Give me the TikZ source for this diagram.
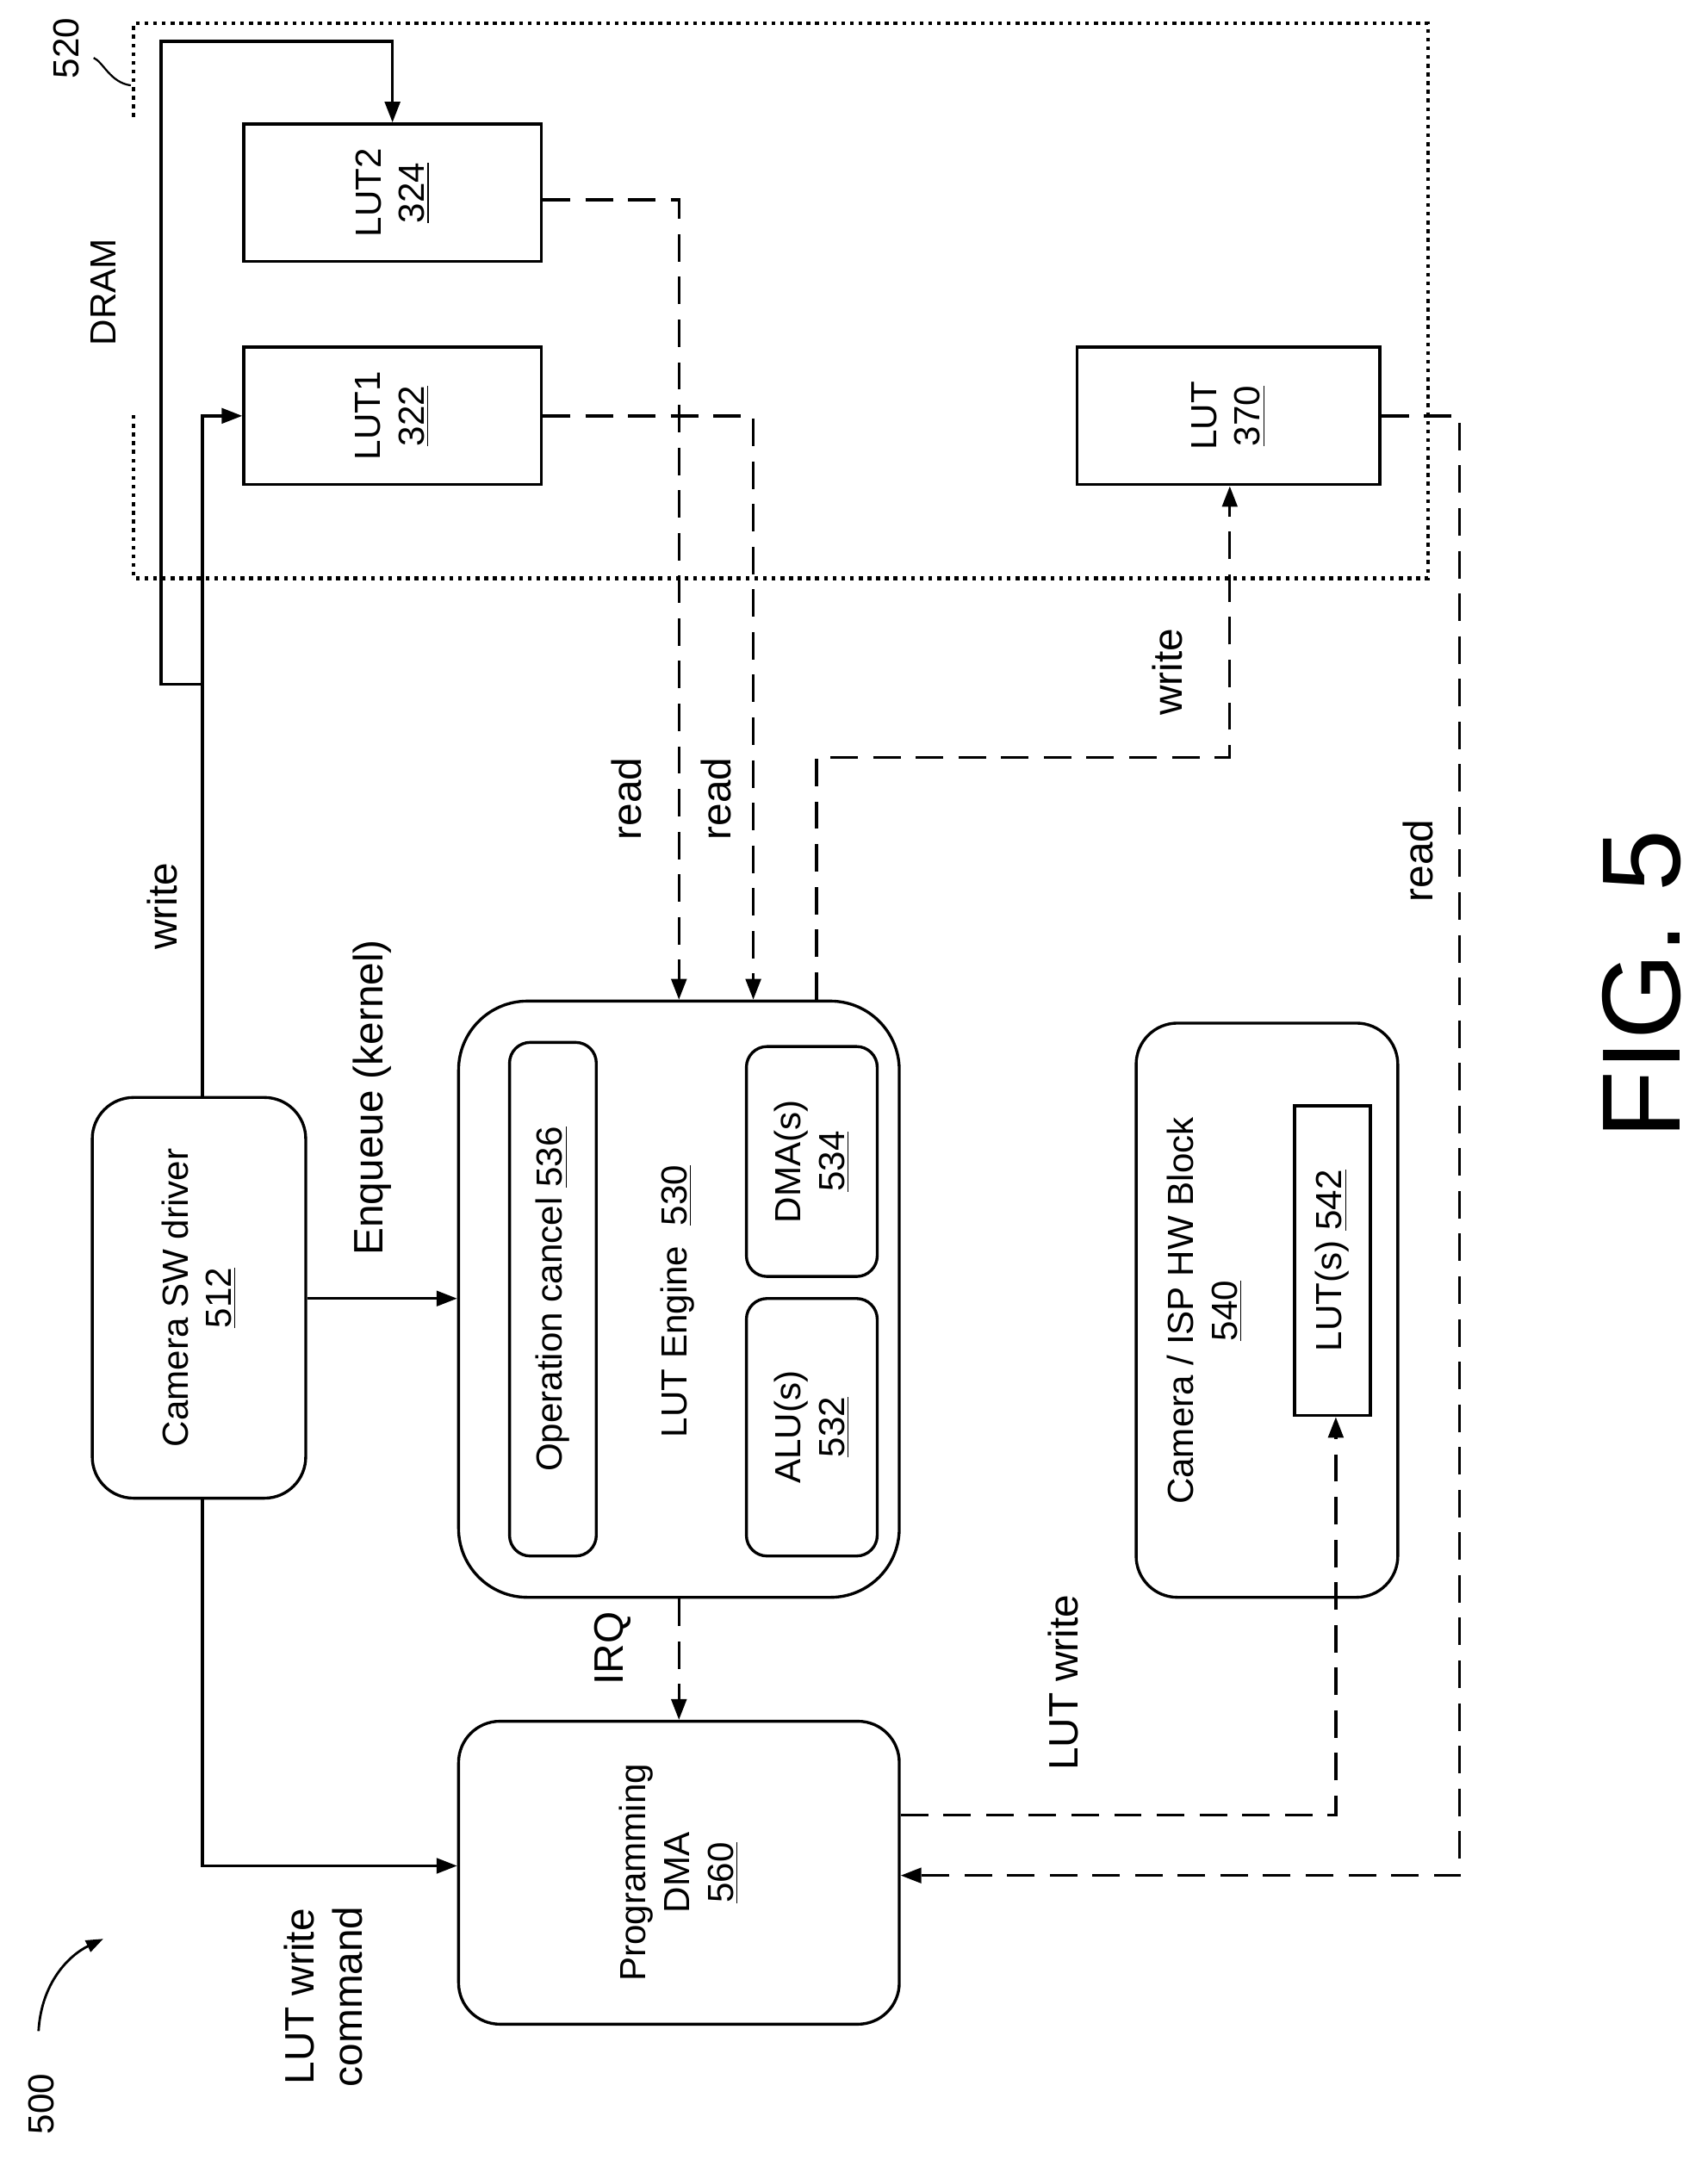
\documentclass[tikz,border=0pt]{standalone}
\usepackage{fontspec}
\setmainfont{Liberation Sans}
\usetikzlibrary{fit,arrows.meta}
\begin{document}
\begin{tikzpicture}[x=0.02cm,y=-0.02cm,
  box/.style={draw,line width=1.2pt,inner sep=0},
  rbox/.style={draw,line width=1.2pt,inner sep=0,rounded corners=0.6cm},
  txt/.style={rotate=90,font=\fontsize{15}{18}\selectfont,align=center},
  lbl/.style={rotate=90,font=\fontsize{17}{20}\selectfont,align=center},
  conn/.style={line width=1.2pt,-{Triangle[length=0.3cm,width=0.22cm]}},
  dconn/.style={conn,dash pattern=on 0.4cm off 0.22cm}]
\useasboundingbox (0,0) rectangle (1240,1573);
% DRAM
\draw[dotted,line width=1.6pt] (97,85) -- (97,17) -- (1037,17) -- (1037,420) -- (97,420) -- (97,300);
\node[txt] (dram) at (75,212) {DRAM};
\node[txt] (n520) at (48,35) {520};
\coordinate (c520) at (95,62);
\draw[line width=0.8pt] (68,42) .. controls (75,45) and (80,60) .. (c520);
% LUT boxes
\node[box,fit={(177,90)(393,190)}] (lut2) {};
\node[txt] at (lut2.center) {LUT2\\\underline{324}};
\node[box,fit={(177,252)(393,352)}] (lut1) {};
\node[txt] at (lut1.center) {LUT1\\\underline{322}};
\node[box,fit={(782,252)(1002,352)}] (lut370) {};
\node[txt] at (lut370.center) {LUT\\\underline{370}};
% driver
\node[rbox,fit={(67,797)(222,1088)}] (drv) {};
\node[txt] at (drv.center) {Camera SW driver\\\underline{512}};
% engine
\node[rbox,fit={(333,727)(653,1160)},rounded corners=1cm] (eng) {};
\node[rbox,fit={(370,757)(433,1130)},rounded corners=0.3cm] (opc) {};
\node[txt] at (opc.center) {Operation cancel \underline{536}};
\node[rbox,fit={(542,943)(637,1130)},rounded corners=0.3cm] (alu) {};
\node[txt] at (alu.center) {ALU(s)\\\underline{532}};
\node[rbox,fit={(542,760)(637,927)},rounded corners=0.3cm] (dmas) {};
\node[txt] at (dmas.center) {DMA(s)\\\underline{534}};
\node[txt] (engl) at (492,945) {LUT Engine\ \ \underline{530}};
% programming DMA
\node[rbox,fit={(333,1250)(653,1470)}] (pdma) {};
\node[txt] at (pdma.center) {Programming\\DMA\\\underline{560}};
% ISP
\node[rbox,fit={(825,743)(1015,1160)}] (isp) {};
\node[txt] at (875,952) {Camera / ISP HW Block\\\underline{540}};
\node[box,fit={(940,803)(995,1028)}] (lut542) {};
\node[txt] at (lut542.center) {LUT(s) \underline{542}};
% connectors
\coordinate (j1) at (147,497);
\draw[conn] (drv.north -| j1) -- (j1) -- (117,497) -- (117,30) -- (285,30) -- (lut2.north -| 285,0);
\draw[conn] (j1) -- (147,302) -- (lut1.west |- 147,302);
\node[lbl] at (118,658) {write};
\draw[conn] (drv.east |- 0,943) -- (eng.west |- 0,943);
\node[lbl] at (270,797) {Enqueue (kernel)};
\draw[conn] (drv.south -| 147,0) -- (147,1355) -- (pdma.west |- 0,1355);
\node[lbl] at (235,1450) {LUT write\\command};
\draw[dconn] (lut2.east |- 0,145) -- (493,145) -- (eng.north -| 493,0);
\node[lbl] at (455,580) {read};
\draw[dconn] (lut1.east |- 0,302) -- (547,302) -- (eng.north -| 547,0);
\node[lbl] at (520,580) {read};
\draw[dconn] (eng.north -| 593,0) -- (593,550) -- (893,550) -- (lut370.south -| 893,0);
\node[lbl] at (848,488) {write};
\draw[dconn] (lut370.east |- 0,302) -- (1060,302) -- (1060,1362) -- (pdma.east |- 0,1362);
\node[lbl] at (1030,625) {read};
\draw[dconn] (eng.south -| 493,0) -- (pdma.north -| 493,0);
\node[lbl] at (445,1197) {IRQ};
\draw[dconn] (pdma.east |- 0,1318) -- (970,1318) -- (lut542.south -| 970,0);
\node[lbl] at (772,1222) {LUT write};
% 500
\node[txt] (n500) at (30,1528) {500};
\coordinate (a500) at (75,1408);
\draw[line width=1pt,-{Triangle[length=0.25cm,width=0.18cm]}] (28,1475) .. controls (30,1440) and (50,1420) .. (a500);
\node[rotate=90,font=\fontsize{46}{55}\selectfont] (fig) at (1192,715) {FIG. 5};
\end{tikzpicture}
\end{document}
